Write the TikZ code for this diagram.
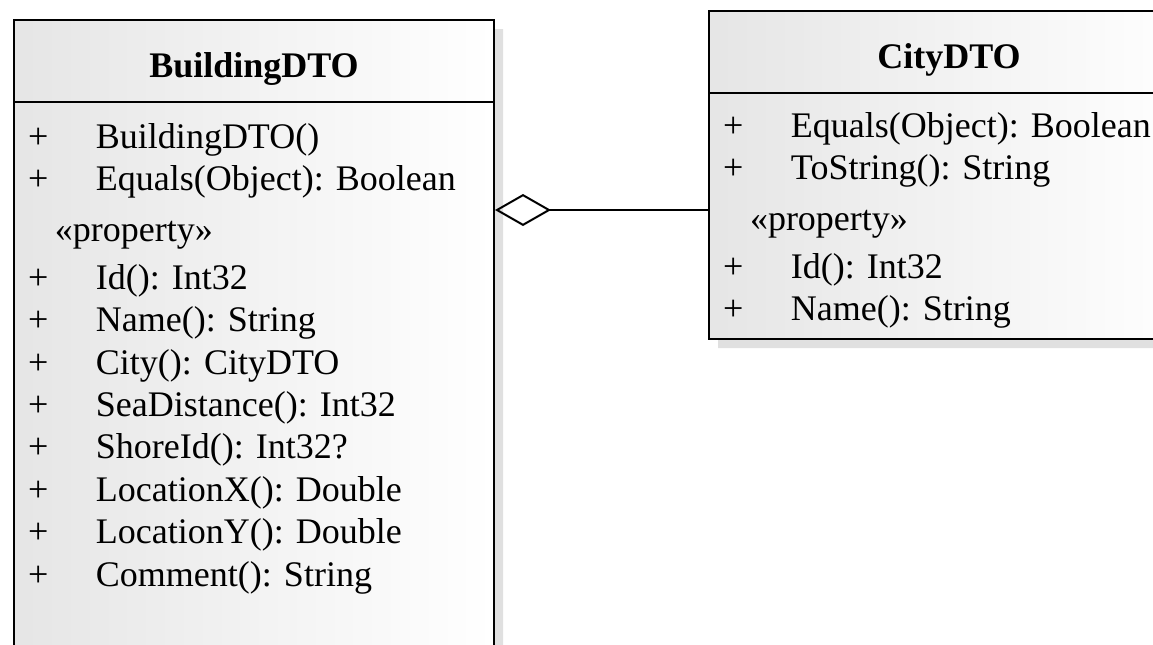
\documentclass[tikz,border=0pt]{standalone}
\usepackage{fontspec}
\setmainfont{Liberation Serif}
\usetikzlibrary{arrows.meta}
\usetikzlibrary{shadows,positioning}
\usetikzlibrary{shapes.multipart}

\frenchspacing
\newcommand{\umlmember}[1]{\makebox[0pt][l]{\hspace*{7pt}+}\hspace*{41pt}#1}
\newcommand{\umlstereo}[1]{\hspace*{20.5pt}«#1»}

\begin{document}
\begin{tikzpicture}[
            umlclass/.style={rectangle split, rectangle split parts=2, draw=black, line width=1pt,
            inner sep=0pt, text width=240pt, left color=black!10, right color=white,
            drop shadow={shadow xshift=4.5pt, shadow yshift=-4.5pt, fill=black!12, opacity=1},
            font=\fontsize{18pt}{21.2pt}\selectfont},
            aggregation/.style={line width=1pt, {Diamond[open,length=28pt,width=16pt]}-}]
            \clip (0,0) rectangle (576.5pt,-322pt);
            \node (building) [umlclass, anchor=north west] at (6.5pt,-9.5pt)
            {
                \parbox[c][40pt][c]{\linewidth}{\centering\vspace*{8pt}\bfseries BuildingDTO}
                \nodepart{second} \parbox[t][280pt][t]{\linewidth}{\rule{0pt}{22.5pt}\umlmember{BuildingDTO()}\\
                \umlmember{Equals(Object): Boolean}\\[4.5pt]
                \umlstereo{property}\\[2.5pt]
                \umlmember{Id(): Int32}\\
                \umlmember{Name(): String}\\
                \umlmember{City(): CityDTO}\\
                \umlmember{SeaDistance(): Int32}\\
                \umlmember{ShoreId(): Int32?}\\
                \umlmember{LocationX(): Double}\\
                \umlmember{LocationY(): Double}\\
                \umlmember{Comment(): String}}
            };

            \node (city) [umlclass, below right=-4.5pt and 106.5pt of building.north east]
            {
                \parbox[c][40pt][c]{\linewidth}{\centering\vspace*{8pt}\bfseries CityDTO}
                \nodepart{second} \parbox[t][122pt][t]{\linewidth}{\rule{0pt}{21.5pt}\umlmember{Equals(Object): Boolean}\\
                \umlmember{ToString(): String}\\[4.5pt]
                \umlstereo{property}\\[2.5pt]
                \umlmember{Id(): Int32}\\
                \umlmember{Name(): String}}
            };

            \coordinate (aggend) at ([yshift=-100pt]city.north west);
            \draw [aggregation] (building.east |- aggend) -- (aggend);
        \end{tikzpicture}
\end{document}
